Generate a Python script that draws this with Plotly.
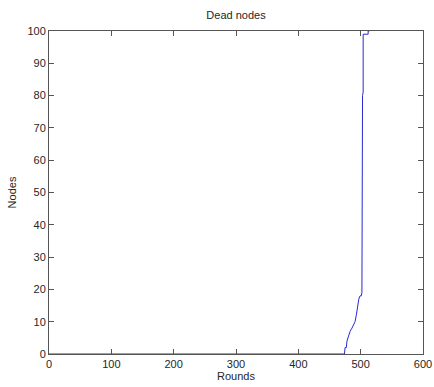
import plotly.graph_objects as go

# Dead nodes over rounds (polyline vertices)
rounds = [0, 474, 475, 477, 478, 481, 483, 486, 488, 491, 493, 495, 497, 499, 501, 502, 502, 503, 503, 504, 504, 512, 512, 514]
dead_nodes = [0, 0, 2, 2, 4, 6, 7, 8, 9, 10, 12, 15, 17, 18, 18, 19, 45, 46, 80, 81, 99, 99, 100, 100]

x_ticks = [0, 100, 200, 300, 400, 500, 600]
y_ticks = [0, 10, 20, 30, 40, 50, 60, 70, 80, 90, 100]

font = dict(family="Liberation Sans, Arial, sans-serif", size=11, color="#262626")
axis_color = "#555555"

W, H = 434, 387

fig = go.Figure()
fig.add_trace(go.Scatter(x=rounds, y=dead_nodes, mode="lines",
                         line=dict(color="#2a2ad0", width=1), showlegend=False,
                         hoverinfo="skip"))

common = dict(showgrid=False, zeroline=False, showline=True, linecolor=axis_color, linewidth=1,
              mirror="allticks", ticks="inside", ticklen=5, tickcolor=axis_color,
              tickfont=font, automargin=False)

fig.update_xaxes(range=[0, 600], tickvals=x_ticks, title=dict(text="Rounds", font=font, standoff=2), **common)
fig.update_yaxes(range=[0, 100], tickvals=y_ticks, title=dict(text="Nodes", font=font, standoff=8), **common)

fig.update_layout(
    width=W, height=H,
    margin=dict(l=49, r=11, t=31, b=33, autoexpand=False),
    paper_bgcolor="white", plot_bgcolor="white",
    font=font,
    title=dict(text="Dead nodes", x=0.5, xanchor="center", xref="paper",
               y=1 - 15 / H, yref="container", yanchor="middle", font=font),
)

fig.write_html(
    "out.html",
    config={"displayModeBar": False},
    post_script="document.body.style.margin='0';document.body.style.overflow='hidden';",
)
